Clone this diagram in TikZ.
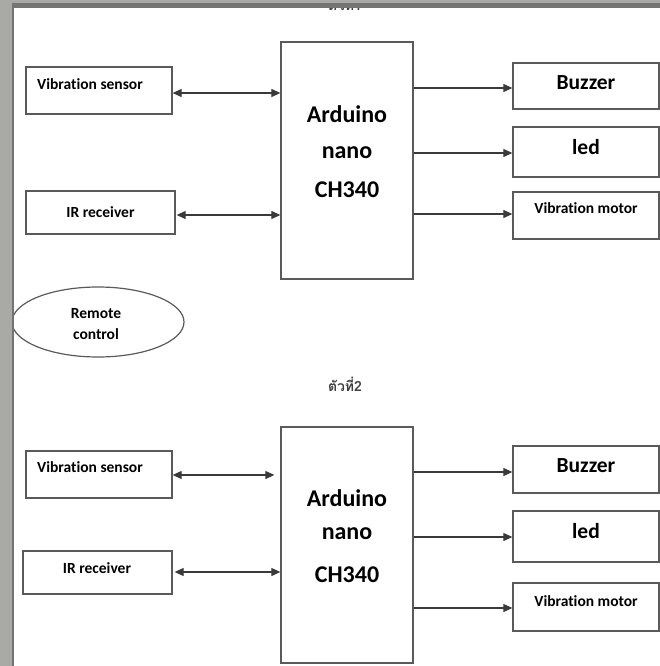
\documentclass[tikz,border=0pt]{standalone}
\usepackage{fontspec}
\setmainfont{Carlito}[Ligatures=NoCommon]
\newfontfamily\thaifont[Script=Thai]{Loma}
\usetikzlibrary{arrows.meta,shapes.geometric}
\definecolor{framelight}{HTML}{A9AAA5}
\definecolor{framedark}{HTML}{747474}
\definecolor{boxline}{HTML}{5A5A5A}
\definecolor{arrline}{HTML}{3A3A3A}
\begin{document}
\begin{tikzpicture}[x=1pt,y=-1pt,
  box/.style={draw=boxline,line width=1.3pt,rectangle,inner sep=0pt},
  small/.style={font=\bfseries\fontsize{15.5}{18}\selectfont,inner sep=0pt},
  big/.style={font=\bfseries\fontsize{21.5}{25}\selectfont,inner sep=0pt},
  huge/.style={font=\bfseries\fontsize{24}{28}\selectfont,inner sep=0pt,anchor=base},
  tipb/.tip={Triangle[length=9pt,width=8pt]},
  biarr/.style={draw=arrline,line width=1.1pt,tipb-tipb},
  onearr/.style={draw=arrline,line width=1.1pt,-tipb},
  thai/.style={font=\thaifont\bfseries\fontsize{14}{16}\selectfont,text=black!75,inner sep=0pt}
]
\useasboundingbox (0,0) rectangle (660,666);
\fill[white] (0,0) rectangle (660,666);

% cut-off heading at top
\node[thai] (h1) at (345,3) {ตัวที่1};

% ===== top diagram =====
\node[box,minimum width=146pt,minimum height=47pt] (vs1) at (99,90.5) {};
\node[small] (vs1t) at (90,84) {Vibration sensor};
\node[box,minimum width=149pt,minimum height=43pt,small] (ir1) at (100.5,212.5) {IR receiver};
\node[box,minimum width=132pt,minimum height=237pt] (ard1) at (347,160.5) {};
\node[huge] (a1a) at (347,122) {Arduino};
\node[huge] (a1b) at (347,158) {nano};
\node[huge] (a1c) at (347,197) {CH340};
\node[box,minimum width=146pt,minimum height=46pt] (bz1) at (586,86) {};
\node[big] (bz1t) at (586,83) {Buzzer};
\node[box,minimum width=146pt,minimum height=50pt] (led1) at (586,152) {};
\node[big] (led1t) at (586,147) {led};
\node[box,minimum width=146pt,minimum height=47pt] (vm1) at (586,215.5) {};
\node[small] (vm1t) at (586,208) {Vibration motor};

\draw[biarr] (vs1.east |- 0,93) -- (ard1.west |- 0,93);
\draw[biarr] ([xshift=1pt]ir1.east |- 0,215) -- (ard1.west |- 0,215);
\draw[onearr] (ard1.east |- 0,88) -- (bz1.west |- 0,88);
\draw[onearr] (ard1.east |- 0,153) -- (led1.west |- 0,153);
\draw[onearr] (ard1.east |- 0,214) -- (vm1.west |- 0,214);

% remote control
\node[draw=boxline,line width=1.2pt,ellipse,minimum width=172pt,minimum height=70pt,inner sep=0pt] (rc) at (98,322) {};
\node[small] (rct1) at (96,314) {Remote};
\node[small] (rct2) at (96,334) {control};

% heading 2
\node[thai] (h2) at (345,384) {ตัวที่2};

% ===== bottom diagram =====
\node[box,minimum width=146pt,minimum height=47pt] (vs2) at (99,474.5) {};
\node[small] (vs2t) at (90,467) {Vibration sensor};
\node[box,minimum width=149pt,minimum height=43pt] (ir2) at (97.5,572.5) {};
\node[small] (ir2t) at (97,568) {IR receiver};
\node[box,minimum width=132pt,minimum height=236pt] (ard2) at (347,545) {};
\node[huge] (a2a) at (347,506) {Arduino};
\node[huge] (a2b) at (347,539) {nano};
\node[huge] (a2c) at (347,582) {CH340};
\node[box,minimum width=146pt,minimum height=47pt] (bz2) at (586,469.5) {};
\node[big] (bz2t) at (586,466) {Buzzer};
\node[box,minimum width=146pt,minimum height=51pt] (led2) at (586,536.5) {};
\node[big] (led2t) at (586,531) {led};
\node[box,minimum width=146pt,minimum height=48pt] (vm2) at (586,607) {};
\node[small] (vm2t) at (586,601) {Vibration motor};

\draw[biarr] (vs2.east |- 0,475) -- ([xshift=-6pt]ard2.west |- 0,475);
\draw[biarr] ([xshift=2pt]ir2.east |- 0,572) -- (ard2.west |- 0,572);
\draw[onearr] (ard2.east |- 0,472) -- (bz2.west |- 0,472);
\draw[onearr] (ard2.east |- 0,537) -- (led2.west |- 0,537);
\draw[onearr] (ard2.east |- 0,608) -- (vm2.west |- 0,608);

% window frame
\fill[framelight] (0,0) rectangle (660,3.5);
\fill[framedark] (11.5,3.5) rectangle (660,8);
\fill[framelight] (0,0) rectangle (11.5,666);
\fill[framedark] (11.5,3.5) rectangle (14,666);
\end{tikzpicture}
\end{document}
